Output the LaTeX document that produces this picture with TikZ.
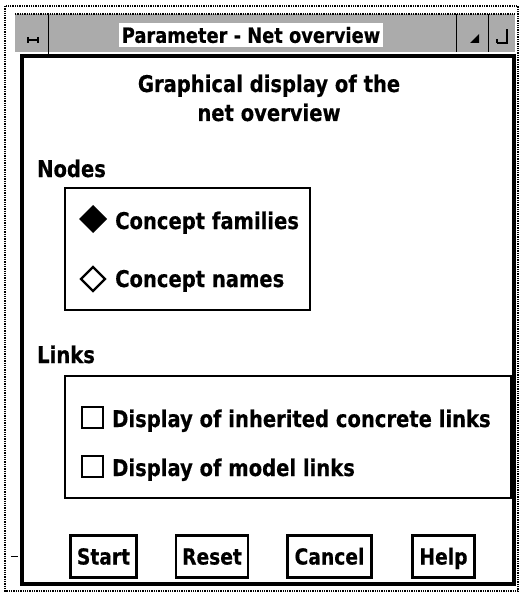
\documentclass[tikz,border=0pt]{standalone}
\usepackage{fontspec}
\setmainfont{DejaVu Sans}[FakeStretch=0.85, BoldFeatures={FakeBold=0.4}]
\begin{document}
\begin{tikzpicture}[x=1pt,y=-1pt,
  uitext/.style={font=\bfseries\fontsize{23}{26}\selectfont, inner sep=0pt},
  smalltext/.style={font=\bfseries\fontsize{21}{24}\selectfont, inner sep=0pt},
  groupbox/.style={draw=black, line width=2pt},
  btn/.style={draw=black, line width=2.8pt, fill=white,
    font=\bfseries\fontsize{22}{24}\selectfont,
    text height=16pt, text depth=0pt, inner sep=0pt, minimum height=42pt},
  stipple/.style={fill=black!33},
  winedge/.style={draw=black, line width=1.3pt, densely dotted}]

\useasboundingbox (0,0) rectangle (521,596);
\fill[white] (0,0) rectangle (521,596);

% window frame
\draw[winedge] (5,6) rectangle (518,591);

% title bar
\fill[stipple] (15,14) rectangle (515,52);
\draw[winedge] (15,14) -- (515,14);
\draw[black, line width=1pt] (48,14) -- (48,56);
\draw[black, line width=1pt] (456,14) -- (456,52);
\draw[black, line width=1pt] (488,14) -- (488,52);
\node[smalltext, fill=white, inner xsep=3pt, inner ysep=4pt] (title) at (251,35) {Parameter - Net overview};

% window menu button glyph
\draw[line width=1.6pt] (28,40) -- (38,40);
\draw[line width=1.4pt] (28,37) -- (28,43) (38,37) -- (38,43);
% minimise and maximise glyphs
\fill (470,43) -- (479,43) -- (479,34) -- cycle;
\draw[line width=1.6pt] (497,43) -- (507,43) -- (507,29);
\draw[line width=1.2pt] (497,39) -- (497,43);

% dialog panel
\draw[black, line width=4.5pt] (22,56) rectangle (514,584);

% heading
\node[uitext, anchor=base] (head1) at (269,92) {Graphical display of the};
\node[uitext, anchor=base] (head2) at (269,121) {net overview};

% node options
\node[uitext, anchor=base west] (nodes) at (37,177) {Nodes};
\draw[groupbox] (65,188) rectangle (310,310);
\fill (93,205) -- (107,219) -- (93,233) -- (79,219) -- cycle;
\node[uitext, anchor=base west] (fam) at (115,229) {Concept families};
\draw[line width=2.4pt] (93,267) -- (105,279) -- (93,291) -- (81,279) -- cycle;
\node[uitext, anchor=base west] (names) at (115,287) {Concept names};

% link options
\node[uitext, anchor=base west] (links) at (37,363) {Links};
\draw[groupbox] (65,376) rectangle (511,498);
\draw[line width=2.4pt] (82,407) rectangle (103,428);
\node[uitext, anchor=base west] (inh) at (112,427) {Display of inherited concrete links};
\draw[line width=2.4pt] (82,456) rectangle (103,477);
\node[uitext, anchor=base west] (model) at (112,476) {Display of model links};

% buttons
\node[btn, minimum width=66pt] (start) at (103.5,556.5) {Start};
\node[btn, minimum width=72pt] (reset) at (212,556.5) {Reset};
\node[btn, minimum width=84pt] (cancel) at (329.5,556.5) {Cancel};
\node[btn, minimum width=62pt] (help) at (443.5,556.5) {Help};

% small tick at the left edge
\draw[line width=1pt] (11,556) -- (18,556);
\end{tikzpicture}
\end{document}
